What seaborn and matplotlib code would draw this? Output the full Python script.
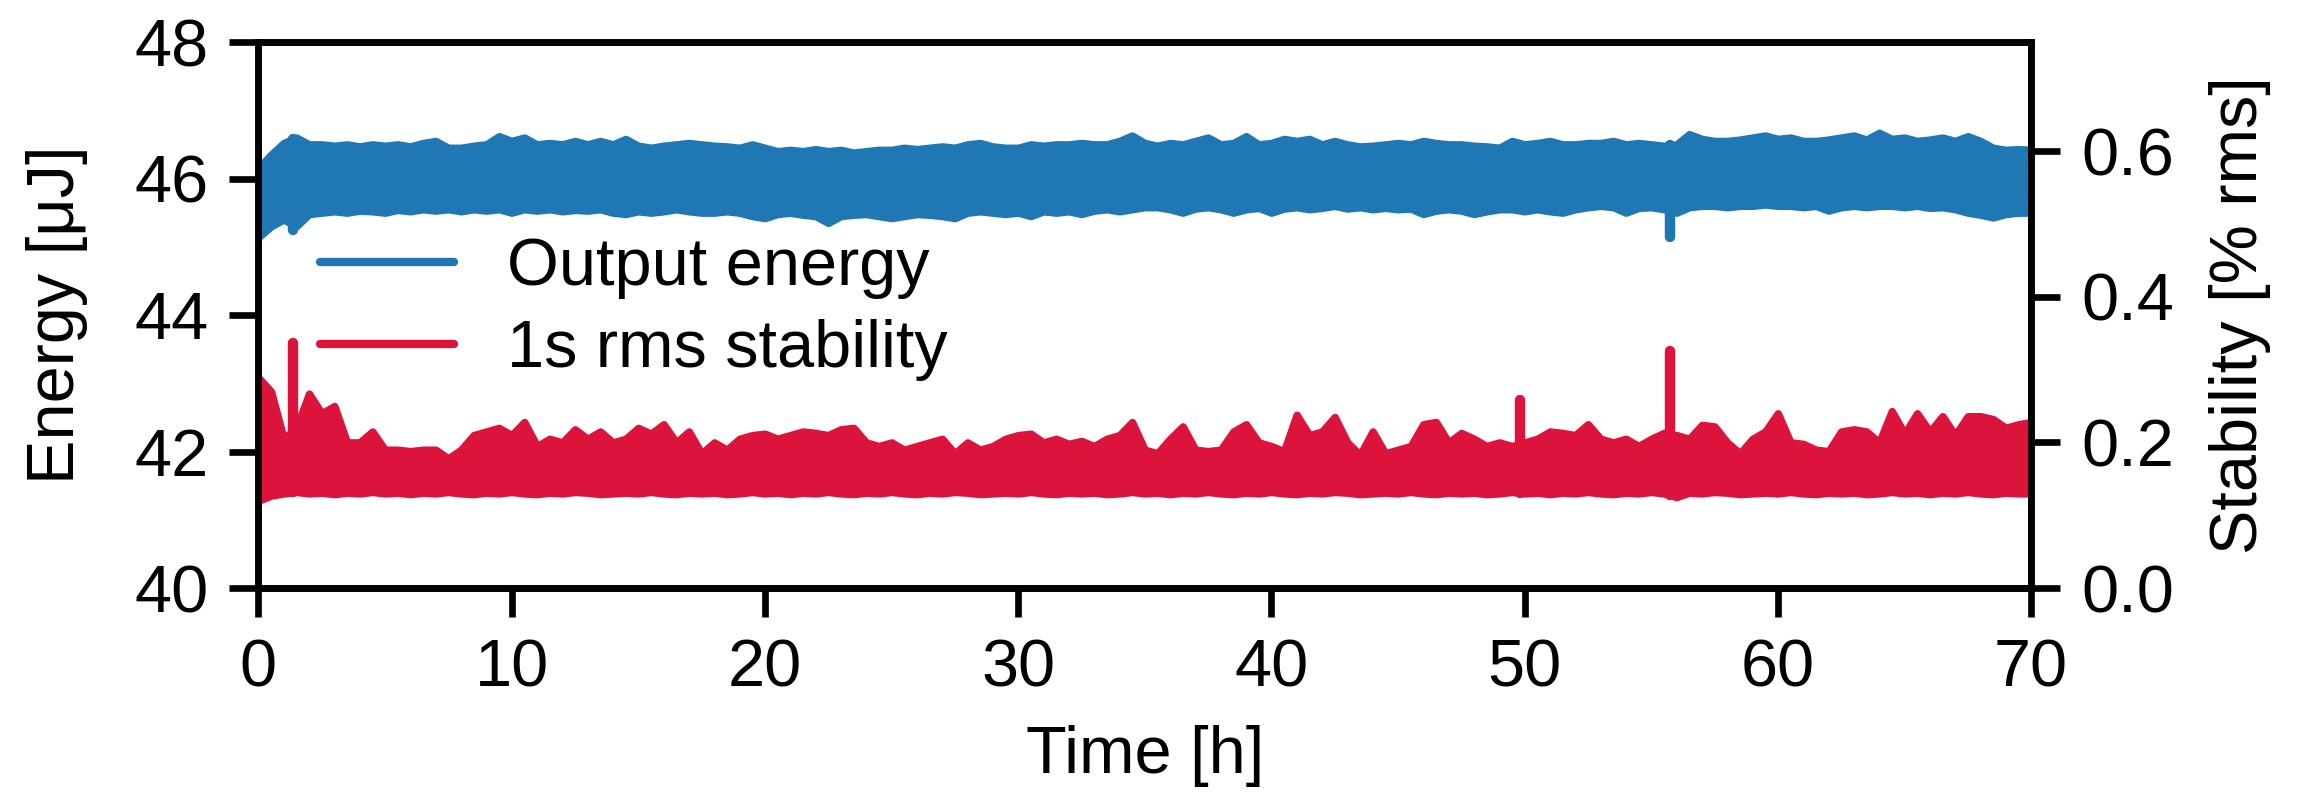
import numpy as np
import pandas as pd
import seaborn as sns
import matplotlib.pyplot as plt

# time grid (h), one envelope reading every half hour
time_h = np.arange(0, 70.5, 0.5)

# output energy envelope (uJ), upper / lower edge of the noise band
energy_hi = [46.15, 46.35, 46.52, 46.60, 46.50, 46.50, 46.48, 46.50, 46.47, 46.50, 46.48, 46.50,
             46.47, 46.52, 46.55, 46.45, 46.45, 46.48, 46.50, 46.62, 46.55, 46.60, 46.50, 46.52,
             46.50, 46.55, 46.50, 46.55, 46.50, 46.58, 46.48, 46.45, 46.48, 46.50, 46.52, 46.50,
             46.48, 46.47, 46.45, 46.50, 46.45, 46.40, 46.42, 46.40, 46.43, 46.40, 46.42, 46.38,
             46.40, 46.42, 46.42, 46.45, 46.43, 46.45, 46.47, 46.45, 46.50, 46.52, 46.47, 46.45,
             46.45, 46.50, 46.48, 46.50, 46.50, 46.52, 46.50, 46.50, 46.55, 46.63, 46.52,
             46.48, 46.52, 46.50, 46.55, 46.60, 46.50, 46.52, 46.62, 46.50, 46.52, 46.58, 46.55,
             46.58, 46.50, 46.55, 46.50, 46.47, 46.48, 46.50, 46.52, 46.50, 46.55, 46.52, 46.50,
             46.50, 46.48, 46.47, 46.45, 46.55, 46.50, 46.52, 46.55, 46.50, 46.50, 46.52,
             46.52, 46.55, 46.50, 46.52, 46.50, 46.48, 46.50, 46.65, 46.58, 46.55, 46.55, 46.57,
             46.60, 46.63, 46.58, 46.60, 46.55, 46.55, 46.57, 46.60, 46.63, 46.57, 46.67, 46.58,
             46.60, 46.55, 46.57, 46.60, 46.55, 46.62, 46.55, 46.45, 46.42, 46.43, 46.42]
energy_lo = [45.14, 45.30, 45.40, 45.30, 45.48, 45.50, 45.52, 45.50, 45.53, 45.52, 45.50, 45.54,
             45.52, 45.55, 45.53, 45.55, 45.52, 45.55, 45.53, 45.55, 45.50, 45.55, 45.53, 45.55,
             45.52, 45.54, 45.53, 45.55, 45.50, 45.48, 45.52, 45.50, 45.52, 45.55, 45.52, 45.50,
             45.50, 45.52, 45.50, 45.45, 45.42, 45.48, 45.50, 45.47, 45.45, 45.35, 45.45, 45.47,
             45.48, 45.45, 45.42, 45.45, 45.48, 45.47, 45.45, 45.42, 45.50, 45.52, 45.50, 45.48,
             45.50, 45.45, 45.52, 45.50, 45.52, 45.48, 45.53, 45.55, 45.52, 45.55, 45.58,
             45.58, 45.55, 45.50, 45.56, 45.58, 45.55, 45.50, 45.55, 45.57, 45.50, 45.56, 45.58,
             45.55, 45.57, 45.60, 45.56, 45.58, 45.55, 45.57, 45.55, 45.56, 45.48, 45.53, 45.55,
             45.53, 45.48, 45.52, 45.55, 45.55, 45.52, 45.55, 45.52, 45.50, 45.55, 45.58,
             45.60, 45.58, 45.50, 45.57, 45.58, 45.55, 45.50, 45.58, 45.60, 45.60, 45.58, 45.60,
             45.60, 45.62, 45.60, 45.60, 45.58, 45.60, 45.53, 45.58, 45.60, 45.58, 45.60, 45.60,
             45.58, 45.60, 45.57, 45.58, 45.55, 45.50, 45.47, 45.43, 45.48, 45.50, 45.50]

# 1 s rms stability envelope (% rms)
stability_hi = [0.289, 0.270, 0.205, 0.220, 0.267, 0.240, 0.250, 0.200, 0.200, 0.215, 0.190, 0.190,
                0.188, 0.190, 0.190, 0.178, 0.190, 0.210, 0.215, 0.220, 0.210, 0.228, 0.195, 0.205,
                0.200, 0.218, 0.205, 0.215, 0.200, 0.205, 0.220, 0.212, 0.225, 0.200, 0.215, 0.185,
                0.200, 0.190, 0.205, 0.210, 0.212, 0.205, 0.210, 0.215, 0.213, 0.210, 0.218, 0.220,
                0.200, 0.195, 0.200, 0.190, 0.195, 0.200, 0.205, 0.185, 0.200, 0.190, 0.195, 0.205,
                0.210, 0.212, 0.200, 0.205, 0.198, 0.202, 0.195, 0.205, 0.210, 0.228, 0.190,
                0.185, 0.205, 0.222, 0.190, 0.188, 0.190, 0.215, 0.225, 0.200, 0.195, 0.188, 0.238,
                0.210, 0.215, 0.235, 0.200, 0.183, 0.215, 0.185, 0.190, 0.195, 0.225, 0.228, 0.200,
                0.213, 0.205, 0.195, 0.200, 0.195, 0.200, 0.205, 0.215, 0.213, 0.210, 0.225,
                0.205, 0.200, 0.205, 0.195, 0.205, 0.213, 0.210, 0.205, 0.224, 0.222, 0.200, 0.185,
                0.205, 0.215, 0.240, 0.200, 0.198, 0.190, 0.188, 0.215, 0.218, 0.215, 0.200, 0.243,
                0.212, 0.240, 0.215, 0.236, 0.210, 0.236, 0.236, 0.232, 0.220, 0.225, 0.228]
stability_lo = [0.120, 0.127, 0.130, 0.132, 0.130, 0.131, 0.129, 0.131, 0.130, 0.132, 0.130, 0.131,
                0.129, 0.131, 0.130, 0.132, 0.130, 0.129, 0.131, 0.130, 0.132, 0.130, 0.129, 0.131,
                0.130, 0.132, 0.131, 0.129, 0.130, 0.131, 0.130, 0.132, 0.130, 0.129, 0.131, 0.130,
                0.131, 0.129, 0.130, 0.132, 0.130, 0.131, 0.129, 0.131, 0.130, 0.132, 0.130, 0.129,
                0.131, 0.130, 0.132, 0.130, 0.129, 0.131, 0.130, 0.132, 0.131, 0.129, 0.130, 0.131,
                0.130, 0.132, 0.130, 0.129, 0.131, 0.130, 0.131, 0.129, 0.130, 0.132, 0.130,
                0.131, 0.129, 0.131, 0.130, 0.132, 0.130, 0.129, 0.131, 0.130, 0.132, 0.130, 0.129,
                0.131, 0.130, 0.132, 0.131, 0.129, 0.130, 0.131, 0.130, 0.132, 0.130, 0.129, 0.131,
                0.130, 0.131, 0.129, 0.130, 0.132, 0.130, 0.131, 0.129, 0.131, 0.130, 0.132,
                0.130, 0.129, 0.131, 0.130, 0.132, 0.130, 0.125, 0.131, 0.130, 0.132, 0.131, 0.129,
                0.130, 0.131, 0.130, 0.132, 0.130, 0.129, 0.131, 0.130, 0.131, 0.129, 0.130, 0.132,
                0.130, 0.131, 0.129, 0.131, 0.130, 0.132, 0.130, 0.129, 0.131, 0.130, 0.130]

# isolated narrow excursions
energy_dip_t = [1.35, 55.75]
energy_dip_v = [45.25, 45.14]
stability_spike_t = [1.35, 49.8, 55.75]
stability_spike_v = [0.337, 0.258, 0.326]

blue = '#1f77b4'
red = '#dc143c'

sns.set_style('ticks')
plt.rcParams['font.family'] = ['Liberation Sans', 'DejaVu Sans']
plt.rcParams.update({
    'font.size': 16,
    'axes.linewidth': 1.6,
    'xtick.major.size': 7, 'ytick.major.size': 7,
    'xtick.major.width': 1.6, 'ytick.major.width': 1.6,
    'xtick.major.pad': 5, 'ytick.major.pad': 5,
    'xtick.color': 'black', 'ytick.color': 'black',
    'axes.edgecolor': 'black', 'axes.labelcolor': 'black',
    'text.color': 'black',
    'lines.solid_capstyle': 'round',
})

fig = plt.figure(figsize=(2317 / 300, 794 / 300), dpi=300)
ax = fig.add_axes([0.1115, 0.2594, 0.7651, 0.6877])
ax2 = ax.twinx()

energy_df = pd.DataFrame({'t': np.concatenate([time_h, time_h]), 'v': energy_hi + energy_lo})
stab_df = pd.DataFrame({'t': np.concatenate([time_h, time_h]), 'v': stability_hi + stability_lo})

band = dict(alpha=1, linewidth=1.8, joinstyle='round')
sns.lineplot(data=energy_df, x='t', y='v', ax=ax, color=blue, lw=1.8,
             errorbar=('pi', 100), err_kws=dict(band, edgecolor=blue),
             label='Output energy', legend=False)
sns.lineplot(data=stab_df, x='t', y='v', ax=ax2, color=red, lw=1.8,
             errorbar=('pi', 100), err_kws=dict(band, edgecolor=red),
             label='1s rms stability', legend=False)

# narrow excursions, drawn from inside the band out to the reading
ax.vlines(energy_dip_t, energy_dip_v, np.interp(energy_dip_t, time_h, energy_hi),
          colors=blue, linewidths=2.5, capstyle='round')
ax2.vlines(stability_spike_t, np.interp(stability_spike_t, time_h, stability_lo), stability_spike_v,
           colors=red, linewidths=2.5, capstyle='round')

ax.set_xlim(0, 70)
ax.set_ylim(40, 48)
ax2.set_ylim(0, 0.75)
ax.set_xticks(range(0, 71, 10))
ax.set_yticks([40, 42, 44, 46, 48])
ax2.set_yticks([0.0, 0.2, 0.4, 0.6])

ax.set_xlabel('Time [h]', labelpad=6)
ax.set_ylabel('Energy [μJ]', labelpad=11)
ax2.set_ylabel('Stability [% rms]', labelpad=8.5)

for a in (ax, ax2):
    for s in a.spines.values():
        s.set_visible(True)
        s.set_linewidth(1.6)

h1, l1 = ax.get_legend_handles_labels()
h2, l2 = ax2.get_legend_handles_labels()
leg = ax2.legend(h1 + h2, l1 + l2, loc='center left', bbox_to_anchor=(0.02, 0.511),
                 frameon=False, borderaxespad=0, handlelength=2.0, handletextpad=0.8,
                 labelspacing=0.3)
for line in leg.get_lines():
    line.set_linewidth(2.0)

fig.savefig('out.png', dpi=300)
